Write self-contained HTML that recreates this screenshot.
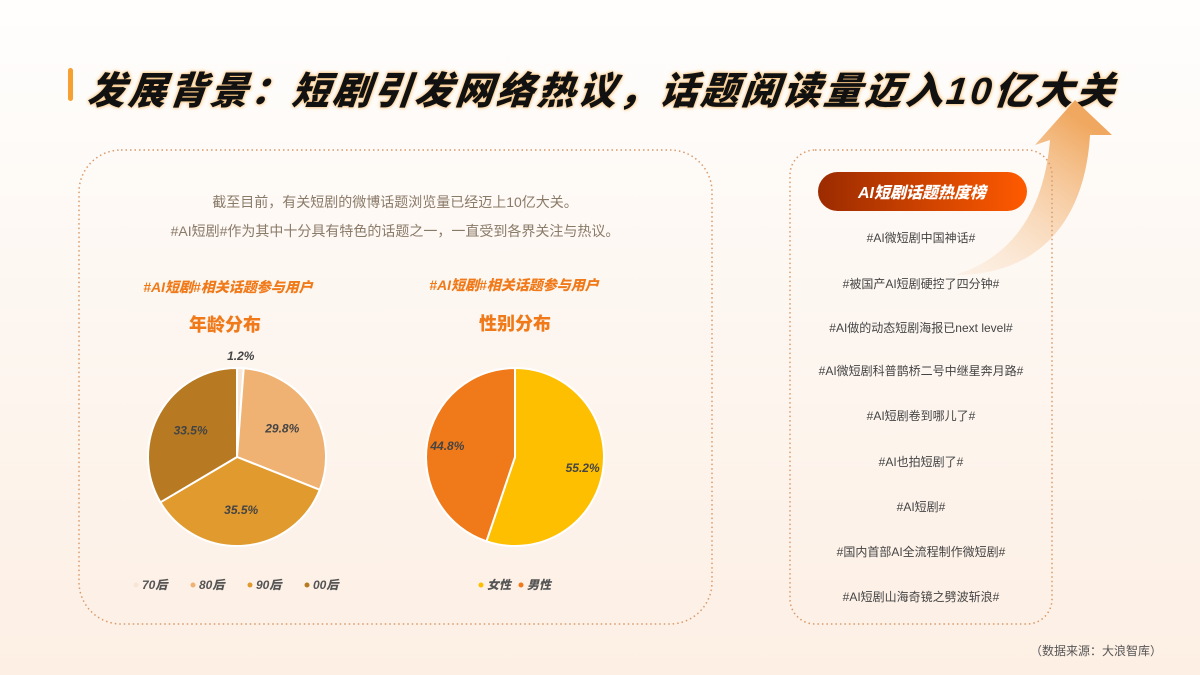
<!DOCTYPE html>
<html><head><meta charset="utf-8">
<style>
body{margin:0;width:1200px;height:675px;overflow:hidden;font-family:"Liberation Sans","Noto Sans CJK SC",sans-serif;}
#root{position:relative;width:1200px;height:675px;background:linear-gradient(#fffefd 0%,#fdf6f0 50%,#fdefe4 100%);}
.abs{position:absolute;}
.title{left:88px;top:60px;font-size:38px;font-weight:900;font-style:italic;color:#111;letter-spacing:2.9px;white-space:nowrap;text-shadow:0 0 4px #f7c27a,0 0 2px #f7c27a;transform:skewX(-6deg);}
.sub{font-size:14px;font-weight:900;font-style:italic;color:#f07a1a;white-space:nowrap;transform:translateX(-50%);}
.sub2{font-size:18px;font-weight:900;color:#f07a1a;white-space:nowrap;transform:translateX(-50%);}
.item{left:790px;width:262px;text-align:center;font-size:12px;color:#444;}
</style></head><body>
<div id="root">
<div class="abs" style="left:68px;top:68px;width:5px;height:33px;background:#f5a030;border-radius:3px;"></div>
<div class="abs title">发展背景：短剧引发网络热议，话题阅读量迈入10亿大关</div>

<svg class="abs" style="left:0;top:0" width="1200" height="675">
<defs><linearGradient id="ag" x1="0" y1="1" x2="0.6" y2="0"><stop offset="0" stop-color="#fbe3cc" stop-opacity="0.3"/><stop offset="1" stop-color="#f0a860"/></linearGradient>
<linearGradient id="pg" x1="0" x2="1"><stop offset="0" stop-color="#9b2b00"/><stop offset="1" stop-color="#ff5a00"/></linearGradient></defs>
<path d="M955,275 C1020,255 1045,200 1050,140 L1035,145 L1075,100 L1112,135 L1090,135 C1085,220 1040,275 955,275 Z" fill="url(#ag)"/>
<rect x="79" y="150" width="633" height="474" rx="42" fill="none" stroke="#d99a6a" stroke-width="1.5" stroke-dasharray="1.5 3"/>
<rect x="790" y="150" width="262" height="474" rx="25" fill="none" stroke="#d99a6a" stroke-width="1.5" stroke-dasharray="1.5 3"/>
<rect x="818" y="172" width="209" height="39" rx="19.5" fill="url(#pg)"/>
<text x="922" y="198" text-anchor="middle" font-size="16" font-weight="900" font-style="italic" fill="#fff" font-family="Liberation Sans, Noto Sans CJK SC, sans-serif">AI短剧话题热度榜</text>
<g id="pies"></g>
</svg>

<div class="abs" style="left:80px;width:630px;top:188px;text-align:center;font-size:14px;color:#8a7a68;line-height:29px;">截至目前，有关短剧的微博话题浏览量已经迈上10亿大关。<br>#AI短剧#作为其中十分具有特色的话题之一，一直受到各界关注与热议。</div>
<div class="abs sub" style="left:228px;top:277px;">#AI短剧#相关话题参与用户</div>
<div class="abs sub2" style="left:225px;top:311px;">年龄分布</div>
<div class="abs sub" style="left:514px;top:275px;">#AI短剧#相关话题参与用户</div>
<div class="abs sub2" style="left:515px;top:310px;">性别分布</div>

<div class="abs item" style="top:229px">#AI微短剧中国神话#</div>
<div class="abs item" style="top:275px">#被国产AI短剧硬控了四分钟#</div>
<div class="abs item" style="top:319px">#AI做的动态短剧海报已next level#</div>
<div class="abs item" style="top:362px">#AI微短剧科普鹊桥二号中继星奔月路#</div>
<div class="abs item" style="top:407px">#AI短剧卷到哪儿了#</div>
<div class="abs item" style="top:453px">#AI也拍短剧了#</div>
<div class="abs item" style="top:498px">#AI短剧#</div>
<div class="abs item" style="top:543px">#国内首部AI全流程制作微短剧#</div>
<div class="abs item" style="top:588px">#AI短剧山海奇镜之劈波斩浪#</div>
<div class="abs" style="left:1030px;top:642px;font-size:12px;color:#555;">（数据来源：大浪智库）</div>
</div>
<script>
const ageCategories=["70后","80后","90后","00后"];
const ageValues=[1.2,29.8,35.5,33.5];
const genderCategories=["女性","男性"];
const genderValues=[55.2,44.8];
const ageColors=["#f7e6d6","#f0b272","#e09a2e","#b77a22"];
const genderColors=["#fdbf00","#f07a1a"];
const NS="http://www.w3.org/2000/svg";
const g=document.getElementById('pies');
function mk(t,a){const e=document.createElementNS(NS,t);for(const k in a)e.setAttribute(k,a[k]);return e;}
function pie(cx,cy,r,vals,cols,labels,name,lblR,legX,legY,legGap){
  const tot=vals.reduce((a,b)=>a+b,0);let a0=-Math.PI/2;
  vals.forEach((v,i)=>{
    const a1=a0+v/tot*2*Math.PI;
    const x0=cx+r*Math.cos(a0),y0=cy+r*Math.sin(a0),x1=cx+r*Math.cos(a1),y1=cy+r*Math.sin(a1);
    const p=mk('path',{d:`M${cx},${cy}L${x0},${y0}A${r},${r} 0 ${a1-a0>Math.PI?1:0} 1 ${x1},${y1}Z`,fill:cols[i],stroke:'#fff','stroke-width':2});
    
    
    g.appendChild(p);
    const am=(a0+a1)/2;const rr=v<5?r+12:r*lblR;
    const t=mk('text',{x:cx+rr*Math.cos(am),y:cy+rr*Math.sin(am)+4,'text-anchor':'middle','font-size':12,'font-weight':900,'font-style':'italic',fill:'#444','font-family':'Liberation Sans, sans-serif'});
    t.textContent=v.toFixed(1)+'%';
    
    
    g.appendChild(t);
    a0=a1;
  });
  labels.forEach((l,i)=>{
    const x=legX+i*legGap;
    const c=mk('circle',{cx:x,cy:legY-4,r:2.5,fill:cols[i]});
    
    
    g.appendChild(c);
    const t=mk('text',{x:x+6,y:legY,'font-size':12,'font-weight':900,'font-style':'italic',fill:'#555','font-family':'Liberation Sans, Noto Sans CJK SC, sans-serif'});
    t.textContent=l;
    
    
    g.appendChild(t);
  });
}
pie(237,457,89,ageValues,ageColors,ageCategories,'age',0.6,136,589,57);
pie(515,457,89,genderValues,genderColors,genderCategories,'gender',0.77,481,589,40);
</script>
</body></html>
